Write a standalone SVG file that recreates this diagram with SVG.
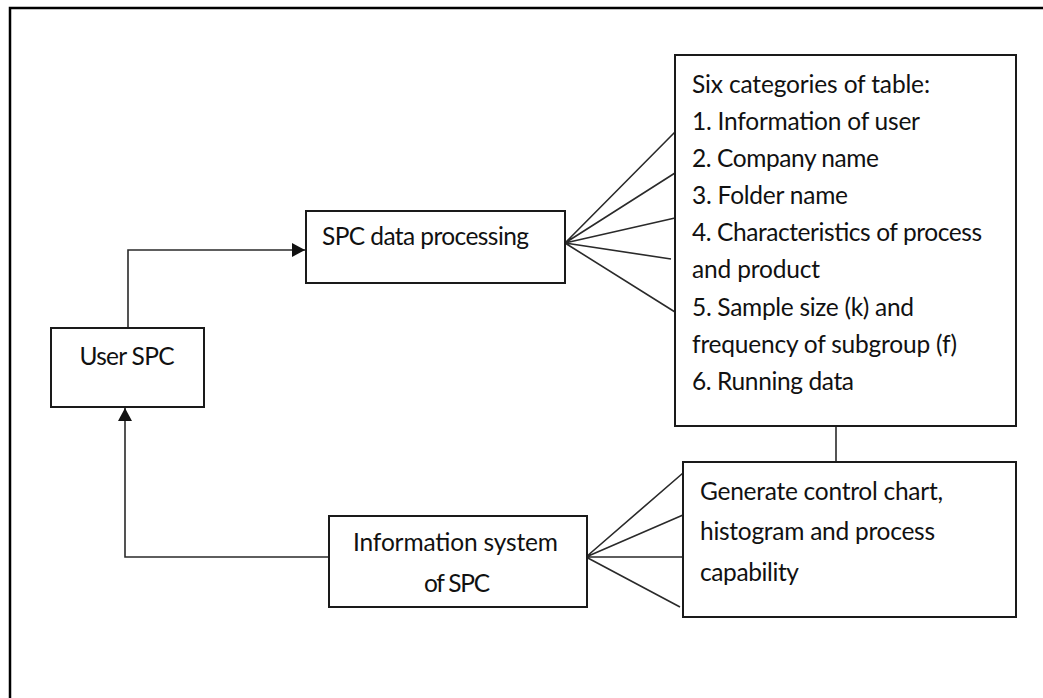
<svg xmlns="http://www.w3.org/2000/svg" width="1043" height="698" viewBox="0 0 1043 698">
<style>
.box{fill:#fff;stroke:#1a1a1a;stroke-width:2}
.ln{fill:none;stroke:#2a2a2a;stroke-width:1.6}
.t{font-family:Lato,"Liberation Sans",sans-serif;font-size:24.5px;fill:#111}
</style>
<defs>
<marker id="ah" markerWidth="14" markerHeight="14" refX="13" refY="7" orient="auto" markerUnits="userSpaceOnUse">
<path d="M0,0 L13,7 L0,14 Z" fill="#111"/>
</marker>
</defs>
<rect width="1043" height="698" fill="#fff"/>
<path d="M10,698 V8 H1043" fill="none" stroke="#000" stroke-width="2.5"/>
<g id="connectors">
<path class="ln" d="M128,328 V250 H305" stroke-width="2" marker-end="url(#ah)"/>
<path class="ln" d="M329,557 H125 V408" stroke-width="2" marker-end="url(#ah)"/>
<path class="ln" d="M565,243 L675,132 M565,243 L675,173 M565,243 L675,218 M565,243 L671,259 M565,243 L675,312"/>
<path class="ln" d="M836,426 V462" stroke-width="2"/>
<path class="ln" d="M586,557 L683,473 M586,557 L683,515 M586,557 L683,557 M586,557 L680,607"/>
</g>
<g id="user-spc">
<rect class="box" x="51" y="328" width="153" height="79"/>
<text class="t" x="127" y="365" text-anchor="middle" textLength="95">User SPC</text>
</g>
<g id="spc-data-processing">
<rect class="box" x="306" y="211" width="259" height="72"/>
<text class="t" x="322" y="245" textLength="207">SPC data processing</text>
</g>
<g id="six-categories">
<rect class="box" x="675" y="55" width="341" height="371"/>
<text class="t" x="692" y="93" textLength="238">Six categories of table:</text>
<text class="t" x="692" y="130" textLength="228">1. Information of user</text>
<text class="t" x="692" y="167" textLength="187">2. Company name</text>
<text class="t" x="692" y="204" textLength="156">3. Folder name</text>
<text class="t" x="692" y="241" textLength="290">4. Characteristics of process</text>
<text class="t" x="692" y="278" textLength="128">and product</text>
<text class="t" x="692" y="316" textLength="222">5. Sample size (k) and</text>
<text class="t" x="692" y="353" textLength="265">frequency of subgroup (f)</text>
<text class="t" x="692" y="390" textLength="162">6. Running data</text>
</g>
<g id="information-system">
<rect class="box" x="329" y="516" width="258" height="91"/>
<text class="t" x="455.5" y="551" text-anchor="middle" textLength="205">Information system</text>
<text class="t" x="457" y="592" text-anchor="middle" textLength="66">of SPC</text>
</g>
<g id="generate">
<rect class="box" x="683" y="462" width="333" height="155"/>
<text class="t" x="700" y="500" textLength="243">Generate control chart,</text>
<text class="t" x="700" y="540" textLength="235">histogram and process</text>
<text class="t" x="700" y="581" textLength="99">capability</text>
</g>
</svg>
